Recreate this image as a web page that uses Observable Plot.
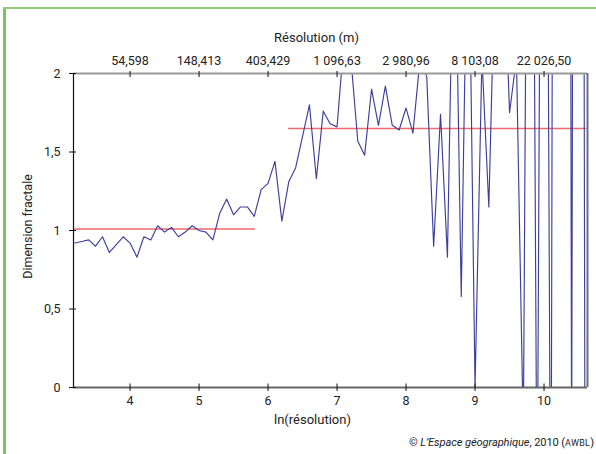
<!DOCTYPE html>
<html>
<head>
<meta charset="utf-8">
<script src="https://cdn.jsdelivr.net/npm/d3@7"></script>
<script src="https://cdn.jsdelivr.net/npm/@observablehq/plot@0.6"></script>
<style>
  html, body { margin: 0; padding: 0; background: #fff; }
  #wrap { position: relative; width: 596px; height: 454px; overflow: hidden; font-family: Roboto, "Open Sans", sans-serif; }
  #gleft { position: absolute; left: 3px; top: 7px; width: 3px; height: 447px; background: #7cc35f; }
  #gtop { position: absolute; left: 3px; top: 7px; width: 593px; height: 2px; background: #8fcd74; }
  #caption { position: absolute; right: 2px; top: 436px; font-size: 11.1px; color: #222; white-space: nowrap; letter-spacing: -0.1px; }
  #caption .sc { font-size: 9px; letter-spacing: 0.3px; }
  svg { position: absolute; left: 0; top: 0; }
</style>
</head>
<body>
<div id="wrap">
  <div id="gleft"></div>
  <div id="gtop"></div>
  <div id="chart"></div>
  <div id="caption">© <i>L’Espace géographique</i>, 2010 (<span class="sc">AWBL</span>)</div>
</div>
<script>
// ln(résolution) of each measurement
const lnResolution = [
  3.2, 3.3, 3.4, 3.5, 3.6, 3.7, 3.8, 3.9, 4.0, 4.1,
  4.2, 4.3, 4.4, 4.5, 4.6, 4.7, 4.8, 4.9, 5.0, 5.1,
  5.2, 5.3, 5.4, 5.5, 5.6, 5.7, 5.8, 5.9, 6.0, 6.1,
  6.2, 6.3, 6.4, 6.5, 6.6, 6.7, 6.8, 6.9, 7.0, 7.1,
  7.2, 7.3, 7.4, 7.5, 7.6, 7.7, 7.8, 7.9, 8.0, 8.1,
  8.2, 8.3, 8.4, 8.5, 8.6, 8.7, 8.8, 8.9, 9.0, 9.1,
  9.2, 9.3, 9.4, 9.5, 9.6, 9.7, 9.8, 9.9, 10.0, 10.1,
  10.2, 10.3, 10.4, 10.5, 10.6
];
// fractal dimension (values outside 0–2 are clipped by the frame)
const dimension = [
  0.92, 0.93, 0.94, 0.90, 0.96, 0.86, 0.91, 0.96, 0.92, 0.83,
  0.96, 0.94, 1.03, 0.99, 1.02, 0.96, 0.99, 1.03, 1.00, 0.99,
  0.94, 1.11, 1.20, 1.10, 1.15, 1.15, 1.09, 1.26, 1.30, 1.44,
  1.06, 1.31, 1.40, 1.60, 1.80, 1.33, 1.76, 1.68, 1.66, 2.21,
  2.10, 1.57, 1.48, 1.90, 1.67, 1.92, 1.67, 1.64, 1.78, 1.62,
  2.08, 1.98, 0.90, 1.74, 0.83, 3.30, 0.58, 3.30, 0.00, 2.10,
  1.15, 2.90, 3.00, 1.75, 2.10, -0.30, 7.00, -1.00, 8.00, -1.50,
  18.0, 22.0, -0.50, 20.0, -2.00
];
// mean levels (red segments)
const meanSegStart = [3.2, 6.3];
const meanSegEnd = [5.8, 10.6];
const meanSegValue = [1.01, 1.65];

const bottomTicks = [4, 5, 6, 7, 8, 9, 10];
const topTickLabels = ["54,598", "148,413", "403,429", "1 096,63", "2 980,96", "8 103,08", "22 026,50"];
const leftTicks = [0, 0.5, 1, 1.5, 2];
const leftTickLabels = ["0", "0,5", "1", "1,5", "2"];

const xDomain = [3.18, 10.63];
const yDomain = [0, 2];

const W = 596, H = 454;
const mL = 73, mR = 9, mT = 73, mB = 67;
const frameW = W - mL - mR, frameH = H - mT - mB;

const pts = lnResolution.map((x, i) => ({x, y: dimension[i]}));
const segs = [];
meanSegStart.forEach((s, i) => {
  segs.push({x: s, y: meanSegValue[i], g: i});
  segs.push({x: meanSegEnd[i], y: meanSegValue[i], g: i});
});

const font = {fontFamily: "Roboto, sans-serif", fontSize: 12.5};

const chart = Plot.plot({
  width: W,
  height: H,
  marginLeft: mL, marginRight: mR, marginTop: mT, marginBottom: mB,
  style: {fontFamily: "Roboto, sans-serif", fontSize: "12.5px", color: "#222", background: "transparent"},
  x: {domain: xDomain},
  y: {domain: yDomain},
  marks: [
    // red mean levels
    Plot.line(segs, {x: "x", y: "y", z: "g", stroke: "#ee6a6e", strokeWidth: 1.6}),
    // data line
    Plot.line(pts, {x: "x", y: "y", stroke: "#3d3f9c", strokeWidth: 1.15, clip: true}),
    // frame sides
    Plot.ruleY([yDomain[1]], {stroke: "#9a9a9a", strokeWidth: 2}),
    Plot.ruleX([xDomain[1]], {stroke: "#707070", strokeWidth: 2}),
    Plot.ruleY([yDomain[0]], {stroke: "#666", strokeWidth: 1.8}),
    Plot.ruleX([xDomain[0]], {stroke: "#111", strokeWidth: 1.2}),
    // crossing ticks
    Plot.tickX(bottomTicks, {x: d => d, stroke: "#111", insetTop: frameH - 3.5, insetBottom: -4}),
    Plot.tickX(bottomTicks, {x: d => d, stroke: "#111", insetTop: -2, insetBottom: frameH - 4}),
    Plot.tickY(leftTicks, {y: d => d, stroke: "#111", insetLeft: -4, insetRight: frameW - 3}),
    // tick labels
    Plot.axisX({anchor: "bottom", ticks: bottomTicks, tickSize: 0, tickPadding: 9, label: null, ...font}),
    Plot.axisX({anchor: "top", ticks: bottomTicks, tickSize: 0, tickPadding: 9, label: null,
      tickFormat: d => topTickLabels[bottomTicks.indexOf(d)], ...font}),
    Plot.axisY({anchor: "left", ticks: leftTicks, tickSize: 0, tickPadding: 13, label: null,
      tickFormat: d => leftTickLabels[leftTicks.indexOf(d)], ...font}),
    // axis titles
    Plot.text(["Résolution (m)"], {frameAnchor: "top", dx: -14, dy: -36, textAnchor: "middle", lineAnchor: "middle", ...font, fontSize: 13}),
    Plot.text(["ln(résolution)"], {frameAnchor: "bottom", dx: -18, dy: 32, textAnchor: "middle", lineAnchor: "middle", ...font, fontSize: 13}),
    Plot.text(["Dimension fractale"], {frameAnchor: "left", dx: -46, dy: -4, rotate: -90, textAnchor: "middle", lineAnchor: "middle", ...font})
  ]
});
document.getElementById("chart").appendChild(chart);
</script>
</body>
</html>
